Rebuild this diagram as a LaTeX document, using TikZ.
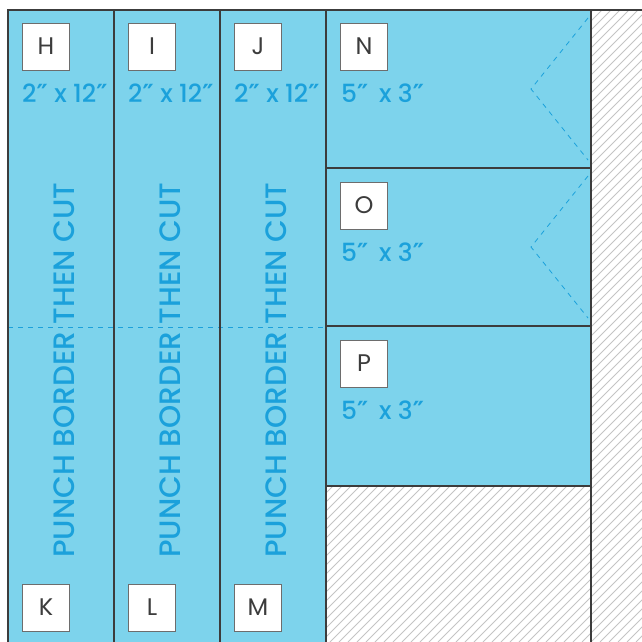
\documentclass[tikz,border=0pt]{standalone}
\usepackage{fontspec}
\setmainfont{Poppins}
\newfontfamily\inkfont{Poppins}[UprightFont=* Medium]
\newfontfamily\primefont{DejaVu Sans}[UprightFont=* Bold]
\newcommand{\inch}{{\primefont ″}}
\usetikzlibrary{positioning}
\definecolor{sheet}{HTML}{7DD3EC}
\definecolor{ink}{HTML}{1BA1DB}
\definecolor{rule}{HTML}{3C3C3C}
\definecolor{hatch}{HTML}{C4C4C4}

\begin{document}
\begin{tikzpicture}[
    x=1pt,
    y=-1pt,
    tag/.style={
        draw=rule!75,
        fill=white,
        line width=0.8pt,
        minimum size=47pt,
        inner sep=0pt,
        text=rule,
        font=\fontsize{24}{24}\selectfont
    },
    size/.style={text=ink, inner sep=0pt, anchor=base west, font=\fontsize{25}{25}\inkfont},
    punch/.style={text=ink, inner sep=0pt, rotate=90, font=\fontsize{29.5}{29.5}\inkfont},
    fold/.style={draw=ink, line width=0.8pt, dash pattern=on 5pt off 5pt},
    edge/.style={draw=rule, line width=1.2pt}
]

\useasboundingbox (0,0) rectangle (642,642);

% sheet and scrap
\fill[sheet] (8,10) rectangle (326,642);
\fill[sheet] (326,10) rectangle (591,486);
\begin{scope}
    \clip (591,10) rectangle (642,642) (326,486) rectangle (591,642);
    \foreach \k in {0,9,...,1300}
        \draw[hatch, line width=1pt] (\k-642,642) -- (\k,0);
\end{scope}

% fold lines
\draw[fold] (8,327) -- (326,327);
\draw[fold] (588,18) -- (531,89) -- (588,160);
\draw[fold] (588,176) -- (531,247) -- (588,318);

% cut lines
\draw[edge] (8,642) -- (8,10) -- (642,10);
\foreach \x in {114,220,326,591}
    \draw[edge] (\x,10) -- (\x,642);
\foreach \y in {168,326,486}
    \draw[edge] (326,\y) -- (591,\y);

% strips
\node[tag] (H) at (46,46.5) {H};
\node[tag] (I) at (152,46.5) {I};
\node[tag] (J) at (258,46.5) {J};
\node[tag] (K) at (46,607.5) {K};
\node[tag] (L) at (152,607.5) {L};
\node[tag] (M) at (258,607.5) {M};
\node[size] (sH) at (22,102) {2\inch{} x 12\inch};
\node[size] (sI) at (128,102) {2\inch{} x 12\inch};
\node[size] (sJ) at (234,102) {2\inch{} x 12\inch};
\node[punch] (pH) at (64,370) {PUNCH BORDER THEN CUT};
\node[punch] (pI) at (170,370) {PUNCH BORDER THEN CUT};
\node[punch] (pJ) at (276,370) {PUNCH BORDER THEN CUT};

% cards
\node[tag] (N) at (364,46.5) {N};
\node[tag] (O) at (364,205.5) {O};
\node[tag] (P) at (364,363.5) {P};
\node[size] (sN) at (341,102) {5\inch{} \,x 3\inch};
\node[size] (sO) at (341,261) {5\inch{} \,x 3\inch};
\node[size] (sP) at (341,419) {5\inch{} \,x 3\inch};

\end{tikzpicture}
\end{document}
